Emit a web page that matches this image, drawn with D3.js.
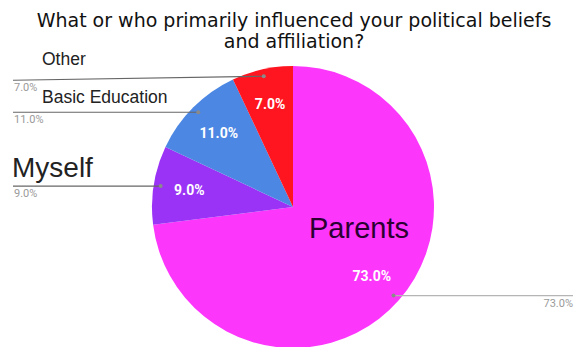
<!DOCTYPE html>
<html>
<head>
<meta charset="utf-8">
<script src="https://cdn.jsdelivr.net/npm/d3@7"></script>
<style>
  body { margin: 0; background: #fff; }
  svg { display: block; }
</style>
</head>
<body>
<div id="chart"></div>
<script>
// chart data
var categories = ["Parents", "Myself", "Basic Education", "Other"];
var values = [73, 9, 11, 7];
var colors = ["#fd36fb", "#9a33f5", "#4c87e3", "#ff1520"];
var titleLines = ["What or who primarily influenced your political beliefs", "and affiliation?"];

var svgWidth = 581;
var svgHeight = 347;
var cx = 293, cy = 207, radius = 141;

var svg = d3.select("#chart")
    .append("svg")
    .attr("width", svgWidth)
    .attr("height", svgHeight);

// title
svg.selectAll(".title")
    .data(titleLines)
    .enter()
    .append("text")
    .attr("class", "title")
    .attr("x", 294)
    .attr("y", (d, i) => 27 + i * 21)
    .attr("text-anchor", "middle")
    .attr("font-family", "DejaVu Sans, Verdana, sans-serif")
    .attr("font-size", "19px")
    .attr("fill", "#111")
    .text(d => d);

var pie = d3.pie().sort(null).value(d => d)(values);
var arc = d3.arc().innerRadius(0).outerRadius(radius);
var labelArc = d3.arc().innerRadius(105).outerRadius(105);
var dotArc = d3.arc().innerRadius(134).outerRadius(134);

var g = svg.append("g").attr("transform", "translate(" + cx + "," + cy + ")");

g.selectAll("path")
    .data(pie)
    .enter()
    .append("path")
    .attr("d", arc)
    .attr("fill", (d, i) => colors[i]);

// percent labels inside slices
g.selectAll(".inlabel")
    .data(pie)
    .enter()
    .append("text")
    .attr("class", "inlabel")
    .attr("transform", d => "translate(" + labelArc.centroid(d) + ")")
    .attr("dy", "0.35em")
    .attr("text-anchor", "middle")
    .attr("font-family", "Roboto, sans-serif")
    .attr("font-size", "14px")
    .attr("font-weight", "bold")
    .attr("fill", "#fff")
    .text(d => d.data.toFixed(1) + "%");

// leader lines, dots and outside percent labels
var side = [1, -1, -1, -1];   // 1 = right edge, -1 = left edge
var lineEndY = [0, 0, 0, 4];  // slight slant on the "Other" line
var leaders = pie.map(function(d, i) {
    var p = dotArc.centroid(d);
    return {
        x1: p[0], y1: p[1],
        x2: side[i] > 0 ? 573 - cx : 13 - cx,
        y2: p[1] + lineEndY[i],
        side: side[i],
        text: d.data.toFixed(1) + "%"
    };
});

g.selectAll(".leader")
    .data(leaders)
    .enter()
    .append("line")
    .attr("x1", d => d.x1).attr("y1", d => d.y1)
    .attr("x2", d => d.x2).attr("y2", d => d.y2)
    .attr("stroke", d => d.side > 0 ? "#b5b5b5" : "#666")
    .attr("stroke-width", 1.2);

g.selectAll(".dot")
    .data(leaders)
    .enter()
    .append("circle")
    .attr("cx", d => d.x1).attr("cy", d => d.y1)
    .attr("r", 2)
    .attr("fill", "#8a8a8a");

g.selectAll(".outlabel")
    .data(leaders)
    .enter()
    .append("text")
    .attr("x", d => d.x2 + (d.side > 0 ? 0 : 1))
    .attr("y", d => d.y2 + 11)
    .attr("text-anchor", d => d.side > 0 ? "end" : "start")
    .attr("font-family", "Roboto, sans-serif")
    .attr("font-size", "11px")
    .attr("fill", "#9a9a9a")
    .text(d => d.text);

// category annotations
var annX = [309, 12, 42, 42];
var annY = [238, 177, 103, 65];
var annSize = [29, 28, 17.5, 17.5];
svg.selectAll(".ann")
    .data(categories)
    .enter()
    .append("text")
    .attr("class", "ann")
    .attr("x", (d, i) => annX[i])
    .attr("y", (d, i) => annY[i])
    .attr("font-family", "Liberation Sans, Arial, sans-serif")
    .attr("font-size", (d, i) => annSize[i] + "px")
    .attr("fill", (d, i) => i === 0 ? "#2a0030" : "#222")
    .text(d => d);
</script>
</body>
</html>
